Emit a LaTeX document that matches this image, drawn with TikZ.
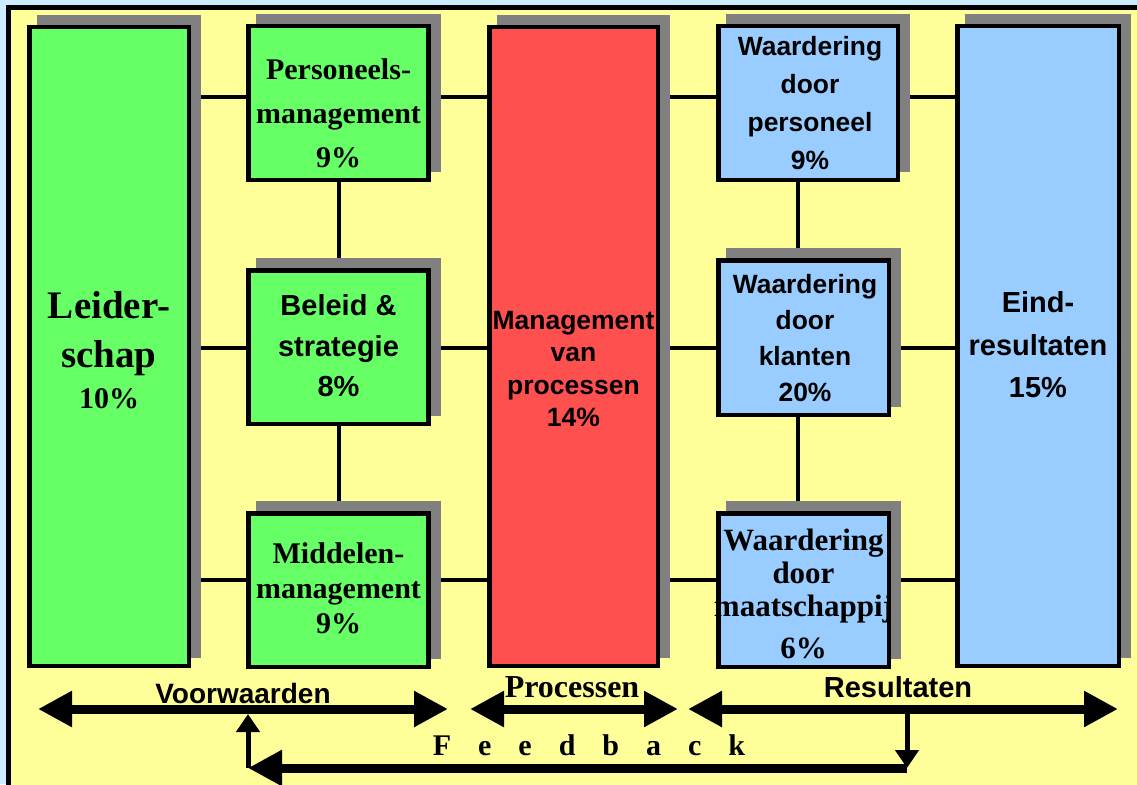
\documentclass[tikz,border=0pt]{standalone}
\usepackage{fontspec}
\setmainfont{Liberation Serif}
\setsansfont{Liberation Sans}
\usepackage{tikz}
\usetikzlibrary{arrows.meta,shadows}
\definecolor{skyback}{HTML}{CCECFF}
\definecolor{panel}{HTML}{FFFF99}
\definecolor{lgreen}{HTML}{66FF66}
\definecolor{lred}{HTML}{FF5050}
\definecolor{lblue}{HTML}{99CCFF}
\definecolor{shade}{HTML}{808080}
\pgfdeclarelayer{back}
\pgfsetlayers{back,main}

\begin{document}
\begin{tikzpicture}[x=1pt,y=-1pt]
	\tikzset{block/.style={draw,line width=4.5pt,inner sep=0pt,drop shadow={shadow xshift=10pt,shadow yshift=10pt,fill=shade,draw=shade,opacity=1}},
		rm/.style 2 args={font=\fontsize{#1}{#2}\selectfont\bfseries,align=center,inner sep=0pt},
		ss/.style 2 args={font=\fontsize{#1}{#2}\selectfont\sffamily\bfseries,align=center,inner sep=0pt},
		link/.style={line width=4pt},
		spanarrow/.style={line width=9pt,{Triangle[length=34pt,width=34pt]}-{Triangle[length=34pt,width=34pt]}},
		fbline/.style={line width=9pt,-{Triangle[length=34pt,width=34pt]}},
		fbtip/.style={line width=5pt,-{Triangle[length=18pt,width=23pt]}}};
	\useasboundingbox (0,0) rectangle (1137,784);

	% the nine blocks
	\node[block,fill=lgreen,minimum width=159.5pt,minimum height=638.5pt] (lead) at (109,346.5) {};
	\node[block,fill=lgreen,minimum width=180pt,minimum height=153.5pt] (pers) at (338.5,103) {};
	\node[block,fill=lgreen,minimum width=180pt,minimum height=153.5pt] (beleid) at (338.5,347) {};
	\node[block,fill=lgreen,minimum width=180pt,minimum height=153.5pt] (midd) at (338.5,590) {};
	\node[block,fill=lred,minimum width=168.5pt,minimum height=638.5pt] (proc) at (573.5,346.5) {};
	\node[block,fill=lblue,minimum width=179.5pt,minimum height=153.5pt] (wpers) at (808,103) {};
	\node[block,fill=lblue,minimum width=170.5pt,minimum height=154.5pt] (wklant) at (803.5,337.5) {};
	\node[block,fill=lblue,minimum width=170.5pt,minimum height=153.5pt] (wmaat) at (803.5,590) {};
	\node[block,fill=lblue,minimum width=161.5pt,minimum height=639.5pt] (eind) at (1038,346) {};

	\node[rm={39}{49}] (lead-t) at (109,350) {Leider-\\schap\\[-8pt]\fontsize{30}{30}\selectfont 10\%};
	\node[rm={30}{44}] (pers-t) at (338.5,113.5) {Personeels-\\management\\9\%};
	\node[ss={29}{40.5}] (beleid-t) at (338.5,346) {Beleid \&\\strategie\\8\%};
	\node[rm={30}{35}] (midd-t) at (338.5,588) {Middelen-\\management\\9\%};
	\node[ss={26.5}{32.3}] (proc-t) at (573.5,369) {Management\\van\\processen\\14\%};
	\node[ss={26.4}{38}] (wpers-t) at (810,103) {Waardering\\door\\personeel\\9\%};
	\node[ss={26.4}{36}] (wklant-t) at (805,338) {Waardering\\door\\klanten\\20\%};
	\node[rm={31}{33}] (wmaat-t) at (803.5,593.5) {Waardering\\door\\maatschappij\\[9pt]6\%};
	\node[ss={29}{42.5}] (eind-t) at (1038,345) {Eind-\\resultaten\\15\%};

	\coordinate (row1) at (0,97);
	\coordinate (row2) at (0,348);
	\coordinate (row3) at (0,580);
	\coordinate (col) at (798,0);

	\begin{pgfonlayer}{back}
		\fill[skyback] (0,0) rectangle (1137,784);
		\draw[line width=4.5pt,fill=panel] (8.5,7.5) rectangle (1160,800);
		% connectors run behind the blocks
		\foreach \a/\b in {lead/pers,pers/proc,proc/wpers,wpers/eind}
			\draw[link] (\a |- row1) -- (\b |- row1);
		\foreach \a/\b in {lead/beleid,beleid/proc,proc/wklant,wklant/eind}
			\draw[link] (\a |- row2) -- (\b |- row2);
		\foreach \a/\b in {lead/midd,midd/proc,proc/wmaat,wmaat/eind}
			\draw[link] (\a |- row3) -- (\b |- row3);
		\draw[link] (pers) -- (beleid) -- (midd);
		\draw[link] (col |- wpers) -- (col |- wklant) -- (col |- wmaat);
	\end{pgfonlayer}

	% phases along the bottom
	\coordinate (vw-l) at (38,709);
	\coordinate (vw-r) at (448,709);
	\coordinate (pr-l) at (470,709);
	\coordinate (pr-r) at (678,709);
	\coordinate (rs-l) at (688,709);
	\coordinate (rs-r) at (1118,709);
	\draw[spanarrow] (vw-l) -- (vw-r);
	\draw[spanarrow] (pr-l) -- (pr-r);
	\draw[spanarrow] (rs-l) -- (rs-r);
	\node[ss={28}{28},anchor=base] (vw-t) at (243,703) {Voorwaarden};
	\node[rm={32}{32},anchor=base] (pr-t) at (572,697) {Processen};
	\node[ss={29}{29},anchor=base] (rs-t) at (898,697) {Resultaten};

	% feedback loop
	\coordinate (fb-a) at (907,713);
	\coordinate (fb-b) at (907,768);
	\coordinate (fb-c) at (248,768);
	\coordinate (fb-d) at (248,714);
	\draw[fbtip] (fb-a) -- (fb-b);
	\draw[fbline] (fb-b) -- (fb-c);
	\draw[fbtip] (fb-c) -- (fb-d);
	\node[rm={30}{30},anchor=base] (fb-t) at (589,755) {\spaceskip=27pt F e e d b a c k};
\end{tikzpicture}
\end{document}
